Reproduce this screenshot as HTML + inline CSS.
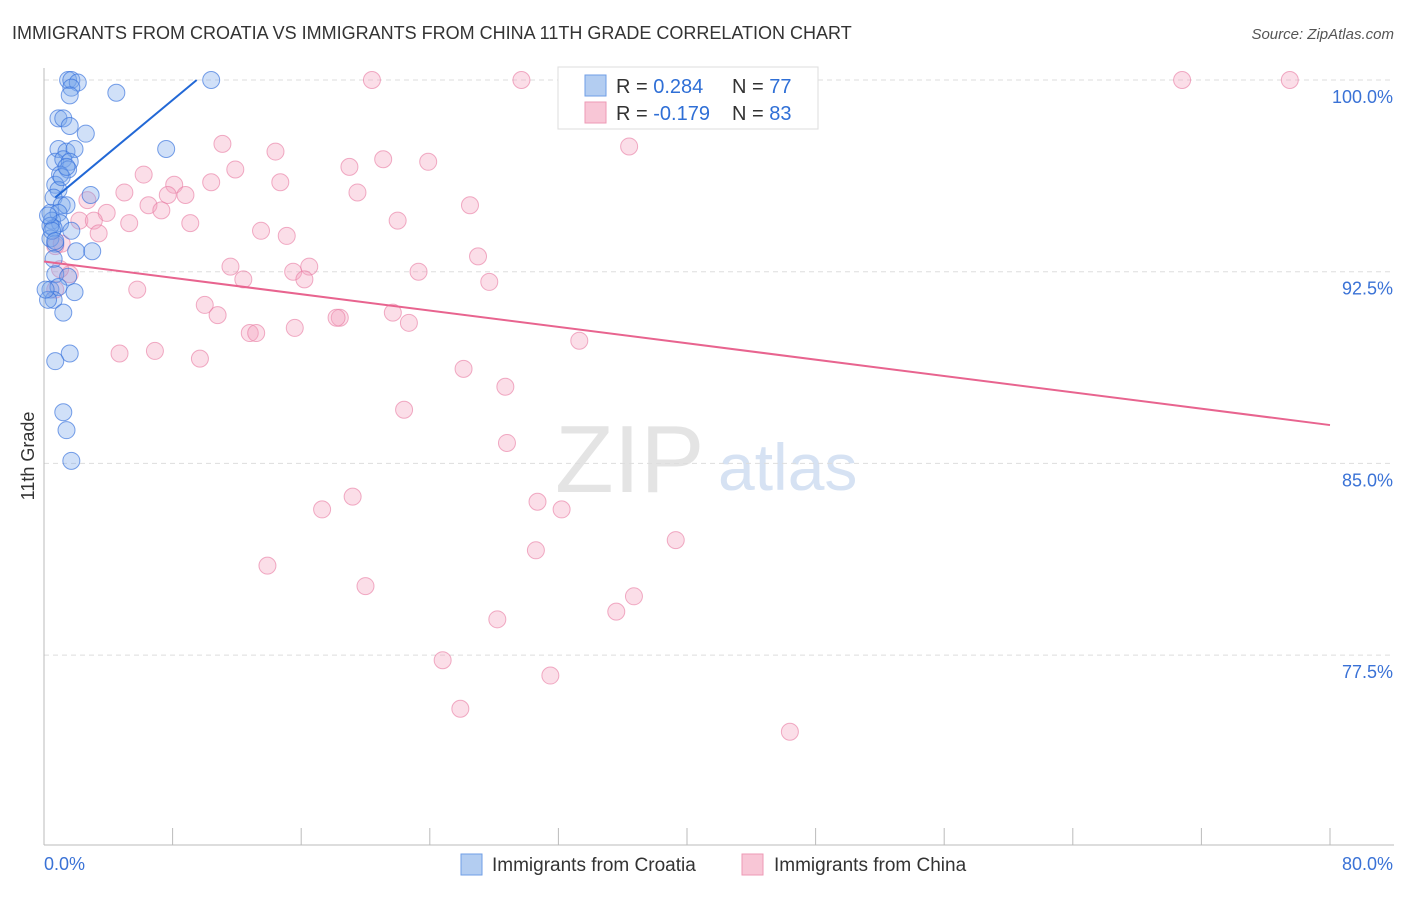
<!DOCTYPE html>
<html><head><meta charset="utf-8"><style>
body{margin:0;background:#fff;font-family:"Liberation Sans",sans-serif}
svg text{font-family:"Liberation Sans",sans-serif}
</style></head><body>
<svg id="chart" width="1406" height="892">
<text x="12" y="39" font-size="18" fill="#333">IMMIGRANTS FROM CROATIA VS IMMIGRANTS FROM CHINA 11TH GRADE CORRELATION CHART</text>
<text x="1394" y="39" font-size="15" fill="#555" font-style="italic" text-anchor="end">Source: ZipAtlas.com</text>
<text x="34" y="456" font-size="18" fill="#333" transform="rotate(-90 34 456)" text-anchor="middle">11th Grade</text>
<text x="555" y="492" font-size="96" fill="#e4e4e4" font-family="Liberation Serif">ZIP</text>
<text x="718" y="490" font-size="66" fill="#d6e2f3">atlas</text>
<g id="grid"></g><g id="axes"></g><g id="pts"></g><g id="lines"></g>
<g>
<rect x="558" y="67" width="260" height="62" fill="#fff" stroke="#ddd"/>
<rect x="585" y="75" width="21" height="21" fill="#b3cdf1" stroke="#6f9ee6"/>
<rect x="585" y="102" width="21" height="21" fill="#f8c6d6" stroke="#ee9ab5"/>
<text x="616" y="93" font-size="20" fill="#333">R = <tspan fill="#2f6fd6"> 0.284</tspan></text>
<text x="732" y="93" font-size="20" fill="#333">N = <tspan fill="#2f6fd6">77</tspan></text>
<text x="616" y="120" font-size="20" fill="#333">R = <tspan fill="#2f6fd6">-0.179</tspan></text>
<text x="732" y="120" font-size="20" fill="#333">N = <tspan fill="#2f6fd6">83</tspan></text>
</g>
<g>
<rect x="461" y="854" width="21" height="21" fill="#b3cdf1" stroke="#6f9ee6"/>
<text x="492" y="871" font-size="19" fill="#333">Immigrants from Croatia</text>
<rect x="742" y="854" width="21" height="21" fill="#f8c6d6" stroke="#ee9ab5"/>
<text x="774" y="871" font-size="19" fill="#333">Immigrants from China</text>
</g>
</svg>
<script>
const yTicks=[100,92.5,85,77.5];
const xTickLabels=["0.0%","80.0%"];
const blueX=[1.5,1.7,2.1,1.7,1.6,4.5,10.4,0.9,1.2,1.6,2.6,0.9,1.4,1.9,0.7,1.2,1.6,1.5,1.0,0.7,0.9,2.9,0.6,1.1,1.4,0.4,0.9,0.5,1.0,0.6,1.7,0.4,0.7,2.0,3.0,0.6,0.7,1.5,0.4,0.9,1.9,0.6,1.2,1.6,0.7,1.2,1.4,1.7,7.6,0.4,0.25,0.5,0.7,1.1,1.4,0.25,0.1];
const blueY=[100,100,99.9,99.7,99.4,99.5,100,98.5,98.5,98.2,97.9,97.3,97.2,97.3,96.8,96.9,96.8,96.5,96.3,95.9,95.7,95.5,95.4,95.1,95.1,94.8,94.8,94.5,94.4,94.2,94.1,93.8,93.6,93.3,93.3,93.0,92.4,92.3,91.8,91.9,91.7,91.4,90.9,89.3,89.0,87.0,86.3,85.1,97.3,94.3,94.7,94.1,93.7,96.2,96.6,91.4,91.8];
const pinkX=[20.4,29.7,33.0,70.8,77.5,40.8,11.1,36.4,14.4,21.1,23.9,19.0,11.9,6.2,14.7,10.4,5.0,8.1,19.5,7.7,8.8,6.5,7.3,26.5,2.7,3.9,2.2,5.3,3.1,9.1,22.0,13.5,15.1,3.4,0.7,1.1,27.0,11.6,16.5,15.5,23.3,12.4,16.2,27.7,5.8,1.6,10.0,10.8,21.7,18.4,18.2,22.7,15.6,12.8,13.2,33.3,4.7,6.9,9.7,26.1,28.7,22.4,28.8,19.2,17.3,30.7,32.2,39.3,30.6,13.9,20.0,36.7,35.6,28.2,24.8,31.5,25.9,46.4,1.0,0.7];
const pinkY=[100,100,100,100,100,100,97.5,97.4,97.2,96.9,96.8,96.6,96.5,96.3,96.0,96.0,95.6,95.9,95.6,95.5,95.5,95.1,94.9,95.1,95.3,94.8,94.5,94.4,94.5,94.4,94.5,94.1,93.9,94.0,93.5,93.6,93.1,92.7,92.7,92.5,92.5,92.2,92.2,92.1,91.8,92.4,91.2,90.8,90.9,90.7,90.7,90.5,90.3,90.1,90.1,89.8,89.3,89.4,89.1,88.7,88.0,87.1,85.8,83.7,83.2,83.5,83.2,82.0,81.6,81.0,80.2,79.8,79.2,78.9,77.3,76.7,75.4,74.5,92.6,91.8];
const blueTrend=[[0.7,95.4],[9.5,100]];
const pinkTrend=[[0,92.9],[80,86.5]];
const X=v=>44+v/80*1286, Y=v=>80+(100-v)/7.5*191.7;
const NS="http://www.w3.org/2000/svg";
function mk(tag,attrs,parent){const e=document.createElementNS(NS,tag);for(const k in attrs)e.setAttribute(k,attrs[k]);document.getElementById(parent).appendChild(e);return e;}
yTicks.forEach(t=>{
 const l=mk('line',{x1:44,x2:1394,y1:Y(t),y2:Y(t),stroke:'#ddd','stroke-dasharray':'5,4'},'grid');
 
 
 const tx=mk('text',{x:1393,y:Y(t)+23,'font-size':18,fill:'#3a72d6','text-anchor':'end'},'grid');
 tx.textContent=t.toFixed(1)+'%';
 
 
});
const ax=mk('line',{x1:44,x2:44,y1:68,y2:845,stroke:'#bbb'},'axes');


const bx=mk('line',{x1:44,x2:1394,y1:845,y2:845,stroke:'#bbb'},'axes');


for(let i=0;i<=10;i++){const t=mk('line',{x1:X(i*8),x2:X(i*8),y1:828,y2:845,stroke:'#bbb'},'axes');
 
 }
[[0,44,'start'],[80,1393,'end']].forEach((d,i)=>{const t=mk('text',{x:d[1],y:870,'font-size':18,fill:'#3a72d6','text-anchor':d[2]},'axes');t.textContent=xTickLabels[i];
 
 });
pinkX.forEach((v,i)=>{const c=mk('circle',{cx:X(v),cy:Y(pinkY[i]),r:8.5,fill:'rgba(244,160,190,0.35)',stroke:'rgba(232,120,160,0.6)'},'pts');
 
 });
blueX.forEach((v,i)=>{const c=mk('circle',{cx:X(v),cy:Y(blueY[i]),r:8.5,fill:'rgba(120,165,235,0.35)',stroke:'rgba(50,110,220,0.65)'},'pts');
 
 });
const bl=mk('line',{x1:X(blueTrend[0][0]),y1:Y(blueTrend[0][1]),x2:X(blueTrend[1][0]),y2:Y(blueTrend[1][1]),stroke:'#2268d6','stroke-width':2},'lines');


const pl=mk('line',{x1:X(pinkTrend[0][0]),y1:Y(pinkTrend[0][1]),x2:X(pinkTrend[1][0]),y2:Y(pinkTrend[1][1]),stroke:'#e8648f','stroke-width':2},'lines');


</script>
</body></html>
